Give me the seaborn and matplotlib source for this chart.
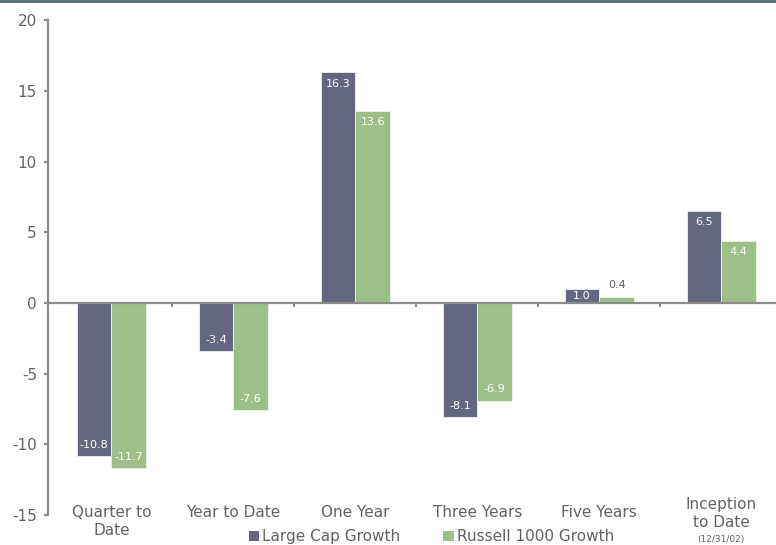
import matplotlib
matplotlib.use("Agg")
import matplotlib.pyplot as plt
import seaborn as sns
import pandas as pd
from matplotlib.lines import Line2D
from matplotlib.patches import Patch
from matplotlib.transforms import blended_transform_factory

categories = ["Quarter to\nDate", "Year to Date", "One Year", "Three Years", "Five Years", "Inception\nto Date"]
series_names = ["Large Cap Growth", "Russell 1000 Growth"]
large_cap = [-10.8, -3.4, 16.3, -8.1, 1.0, 6.5]
russell = [-11.7, -7.6, 13.6, -6.9, 0.4, 4.4]
inception_note = "(12/31/02)"
yticks = [-15, -10, -5, 0, 5, 10, 15, 20]

colors = ["#636780", "#9dbf88"]
text_gray = "#626262"
axis_gray = "#8c8c8c"

df = pd.DataFrame({
    "category": categories * 2,
    "series": [series_names[0]] * len(categories) + [series_names[1]] * len(categories),
    "value": large_cap + russell,
})

sns.set_style("white")
plt.rcParams["font.family"] = ["DejaVu Sans"]

fig = plt.figure(figsize=(7.76, 5.45), dpi=100)
ax = fig.add_axes([0.0619, 0.055, 0.943, 0.908])

sns.barplot(data=df, x="category", y="value", hue="series", palette=colors,
            width=0.57, edgecolor="#f2f2f2", linewidth=0.6, ax=ax,
            legend=False, errorbar=None, saturation=1)

ax.set_xlim(-0.52, 5.48)
ax.set_ylim(-15, 20)
ax.set_yticks(yticks)
ax.set_yticklabels([str(t) for t in yticks], color=text_gray, fontsize=11)
ax.set_xlabel("")
ax.set_ylabel("")

for s in ["top", "right"]:
    ax.spines[s].set_visible(False)
ax.spines["left"].set_color(axis_gray)
ax.spines["left"].set_linewidth(1.6)
ax.spines["bottom"].set_position(("data", 0))
ax.spines["bottom"].set_color(axis_gray)
ax.spines["bottom"].set_linewidth(1.6)

ax.tick_params(axis="y", direction="out", length=3, width=1.6, color=axis_gray, pad=5, left=True)
ax.set_xticks(range(len(categories)))
ax.set_xticklabels([])
ax.tick_params(axis="x", which="major", length=0)
ax.set_xticks([i + 0.5 for i in range(len(categories) - 1)], minor=True)
ax.tick_params(axis="x", which="minor", direction="out", length=3, width=1.6, color=axis_gray, bottom=True)

# value labels
for cont in ax.containers:
    for bar in cont:
        h = bar.get_height()
        x = bar.get_x() + bar.get_width() / 2
        if abs(h) < 0.8:
            ax.annotate(f"{h:.1f}", (x, h), xytext=(0, 5), textcoords="offset points",
                        ha="center", va="bottom", fontsize=8, color=text_gray)
        else:
            off = -8 if h > 0 else 8
            if abs(h) < 1.5:
                off = -5 if h > 0 else 5
            ax.annotate(f"{h:.1f}", (x, h), xytext=(0, off), textcoords="offset points",
                        ha="center", va="center", fontsize=8, color="white")

# category labels below the plot
trans = blended_transform_factory(ax.transData, ax.transAxes)
for i, lab in enumerate(categories):
    y = 0.020
    if i == len(categories) - 1:
        y = 0.036
    ax.text(i, y, lab, transform=trans, ha="center", va="top", fontsize=11,
            color=text_gray, linespacing=1.2)
ax.text(len(categories) - 1, -0.049, inception_note, transform=trans, ha="center",
        va="center", fontsize=6.5, color=text_gray)

handles = [Patch(facecolor=c, edgecolor="none") for c in colors]
fig.legend(handles, series_names, loc="center", bbox_to_anchor=(0.556, 0.015), ncol=2,
           frameon=False, handlelength=0.7, handleheight=0.7, handletextpad=0.2,
           columnspacing=2.8, fontsize=11, labelcolor=text_gray)

fig.add_artist(Line2D([0, 1], [0.998, 0.998], transform=fig.transFigure,
                      color="#4d6670", linewidth=2))

fig.savefig("out.png", dpi=100)
